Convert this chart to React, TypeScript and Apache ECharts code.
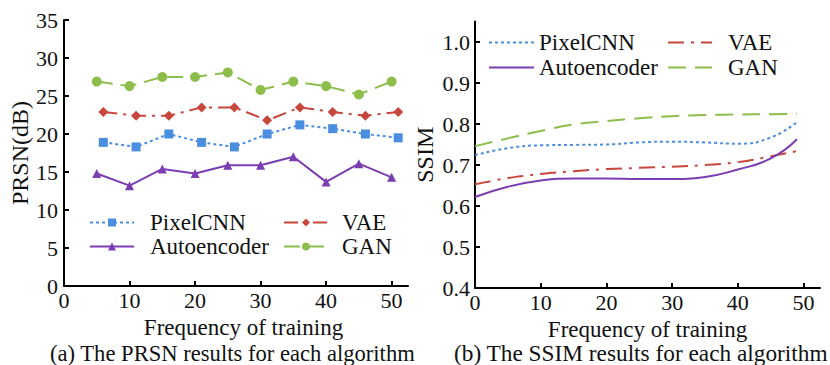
import React, { useEffect, useRef } from "react";
import * as echarts from "echarts";

// Left chart (PRSN)
const pixelX = [6, 11, 16, 21, 26, 31, 36, 41, 46, 51];
const pixelPRSN = [18.9, 18.3, 20.0, 18.9, 18.3, 20.0, 21.2, 20.7, 20.0, 19.5];
const vaeX = [6, 11, 16, 21, 26, 31, 36, 41, 46, 51];
const vaePRSN = [22.9, 22.4, 22.4, 23.5, 23.5, 21.8, 23.5, 22.9, 22.4, 22.9];
const aeX = [5, 10, 15, 20, 25, 30, 35, 40, 45, 50];
const aePRSN = [14.8, 13.2, 15.4, 14.8, 15.9, 15.9, 17.0, 13.7, 16.1, 14.3];
const ganX = [5, 10, 15, 20, 25, 30, 35, 40, 45, 50];
const ganPRSN = [26.9, 26.3, 27.5, 27.5, 28.1, 25.8, 26.9, 26.3, 25.2, 26.9];

// Right chart (SSIM)
const ssimX = [0, 5, 10, 15, 20, 25, 30, 35, 40, 45, 49];
const pixelSSIM = [0.724, 0.741, 0.748, 0.749, 0.750, 0.755, 0.757, 0.755, 0.752, 0.767, 0.805];
const vaeSSIM = [0.653, 0.668, 0.678, 0.685, 0.690, 0.693, 0.696, 0.700, 0.707, 0.721, 0.734];
const aeSSIM = [0.622, 0.647, 0.662, 0.667, 0.667, 0.666, 0.666, 0.671, 0.689, 0.716, 0.763];
const ganSSIM = [0.746, 0.765, 0.783, 0.799, 0.807, 0.814, 0.819, 0.822, 0.823, 0.824, 0.825];

const xTicks = [0, 10, 20, 30, 40, 50];
const prsnTicks = [0, 5, 10, 15, 20, 25, 30, 35];
const ssimTicks = [0.4, 0.5, 0.6, 0.7, 0.8, 0.9, 1.0];

const COLORS = {
  PixelCNN: "#4a8fdf",
  VAE: "#c8473c",
  Autoencoder: "#7a3db2",
  GAN: "#8dbe4c",
};

const FONT = "Liberation Serif";

const zip = (xs: number[], ys: number[]) => xs.map((x, i) => [x, ys[i]]);

export default function App() {
  const ref = useRef<HTMLDivElement>(null);
  useEffect(() => {
    if (!ref.current) return;
    const chart = echarts.init(ref.current, undefined, { renderer: "svg" });

    const axisLine = { show: true, lineStyle: { color: "#000", width: 2 } };
    const axisTick = (vals: number[]) => ({
      show: true,
      inside: true,
      length: 5,
      lineStyle: { color: "#000", width: 2 },
      customValues: vals,
    });

    const xAxisBase = (gridIndex: number, padLeft: number) => ({
      type: "value",
      gridIndex,
      min: 0,
      max: 52.5,
      interval: 10,
      axisLine,
      axisTick: axisTick(xTicks),
      splitLine: { show: false },
      axisLabel: {
        color: "#111",
        fontFamily: FONT,
        fontSize: 22,
        margin: 3,
        customValues: xTicks,
      },
      name: "Frequency of training",
      nameLocation: "middle",
      nameGap: 24,
      nameTextStyle: {
        color: "#111",
        fontFamily: FONT,
        fontSize: 23,
        lineHeight: 23,
        padding: [0, 0, 0, padLeft],
      },
    });

    const legendItem = (
      name: string,
      left: number,
      top: number,
      w: number,
      pad: number,
      hideSymbol: boolean
    ) => {
      const l: any = {
        data: [name],
        left,
        top,
        itemWidth: w,
        itemHeight: 10,
        padding: 0,
        selectedMode: false,
        formatter: (n: string) => n.replace("_b", ""),
        textStyle: {
          color: "#111",
          fontFamily: FONT,
          fontSize: 23,
          padding: [0, 0, 0, pad],
        },
      };
      if (hideSymbol) l.itemStyle = { opacity: 0 };
      return l;
    };

    const option: any = {
      animation: false,
      backgroundColor: "#fff",
      textStyle: { fontFamily: FONT },
      grid: [
        { left: 64, top: 20, width: 344, height: 266 },
        { left: 475, top: 21.5, width: 345, height: 266.5 },
      ],
      xAxis: [xAxisBase(0, 15), xAxisBase(1, 0)],
      yAxis: [
        {
          type: "value",
          gridIndex: 0,
          min: 0,
          max: 35,
          interval: 5,
          axisLine,
          axisTick: axisTick(prsnTicks),
          splitLine: { show: false },
          axisLabel: {
            color: "#111",
            fontFamily: FONT,
            fontSize: 22,
            margin: 6,
            customValues: prsnTicks,
          },
          name: "PRSN(dB)",
          nameLocation: "middle",
          nameGap: 30,
          nameTextStyle: { color: "#111", fontFamily: FONT, fontSize: 24 },
        },
        {
          type: "value",
          gridIndex: 1,
          min: 0.4,
          max: 1.05,
          interval: 0.1,
          axisLine,
          axisTick: axisTick(ssimTicks),
          splitLine: { show: false },
          axisLabel: {
            color: "#111",
            fontFamily: FONT,
            fontSize: 22,
            margin: 5,
            customValues: ssimTicks,
            formatter: (v: number) => v.toFixed(1),
          },
          name: "SSIM",
          nameLocation: "middle",
          nameGap: 38,
          nameTextStyle: { color: "#111", fontFamily: FONT, fontSize: 24 },
        },
      ],
      legend: [
        legendItem("PixelCNN", 89, 211, 44, 11, false),
        legendItem("VAE", 283, 211, 44, 9, false),
        legendItem("Autoencoder", 89, 235, 44, 11, false),
        legendItem("GAN", 283, 235, 44, 9, false),
        legendItem("PixelCNN_b", 488, 31, 45, 0, true),
        legendItem("VAE_b", 667, 31, 44, 11, true),
        legendItem("Autoencoder_b", 488, 56, 45, 0, true),
        legendItem("GAN_b", 667, 56, 44, 11, true),
      ],
      series: [
        {
          name: "PixelCNN",
          type: "line",
          xAxisIndex: 0,
          yAxisIndex: 0,
          data: zip(pixelX, pixelPRSN),
          symbol: "rect",
          symbolSize: 9,
          color: COLORS.PixelCNN,
          lineStyle: { type: [3, 3], width: 2 },
        },
        {
          name: "VAE",
          type: "line",
          xAxisIndex: 0,
          yAxisIndex: 0,
          data: zip(vaeX, vaePRSN),
          symbol: "diamond",
          symbolSize: 10,
          color: COLORS.VAE,
          lineStyle: { type: [14, 6, 3, 6], width: 2 },
        },
        {
          name: "Autoencoder",
          type: "line",
          xAxisIndex: 0,
          yAxisIndex: 0,
          data: zip(aeX, aePRSN),
          symbol: "triangle",
          symbolSize: 9,
          color: COLORS.Autoencoder,
          lineStyle: { type: "solid", width: 2 },
        },
        {
          name: "GAN",
          type: "line",
          xAxisIndex: 0,
          yAxisIndex: 0,
          data: zip(ganX, ganPRSN),
          symbol: "circle",
          symbolSize: 10,
          color: COLORS.GAN,
          lineStyle: { type: [16, 8], width: 2 },
        },
        {
          name: "PixelCNN_b",
          type: "line",
          xAxisIndex: 1,
          yAxisIndex: 1,
          data: zip(ssimX, pixelSSIM),
          smooth: 0.5,
          symbol: "none",
          color: COLORS.PixelCNN,
          lineStyle: { type: [3, 3], width: 2 },
        },
        {
          name: "VAE_b",
          type: "line",
          xAxisIndex: 1,
          yAxisIndex: 1,
          data: zip(ssimX, vaeSSIM),
          smooth: 0.5,
          symbol: "none",
          color: COLORS.VAE,
          lineStyle: { type: [16, 7, 3, 7], width: 2 },
        },
        {
          name: "Autoencoder_b",
          type: "line",
          xAxisIndex: 1,
          yAxisIndex: 1,
          data: zip(ssimX, aeSSIM),
          smooth: 0.5,
          symbol: "none",
          color: COLORS.Autoencoder,
          lineStyle: { type: "solid", width: 2 },
        },
        {
          name: "GAN_b",
          type: "line",
          xAxisIndex: 1,
          yAxisIndex: 1,
          data: zip(ssimX, ganSSIM),
          smooth: 0.5,
          symbol: "none",
          color: COLORS.GAN,
          lineStyle: { type: [18, 9], width: 2 },
        },
      ],
      graphic: [
        {
          type: "text",
          left: 50,
          top: 342,
          style: {
            text: "(a) The PRSN results for each algorithm",
            fill: "#111",
            font: `22.6px ${FONT}`,
          },
        },
        {
          type: "text",
          left: 454,
          top: 341,
          style: {
            text: "(b) The SSIM results for each algorithm",
            fill: "#111",
            font: `23.3px ${FONT}`,
          },
        },
      ],
    };

    chart.setOption(option);
    return () => chart.dispose();
  }, []);

  return (
    <div
      ref={ref}
      style={{
        position: "absolute",
        left: 0,
        top: 0,
        width: 830,
        height: 365,
        background: "#fff",
      }}
    />
  );
}
